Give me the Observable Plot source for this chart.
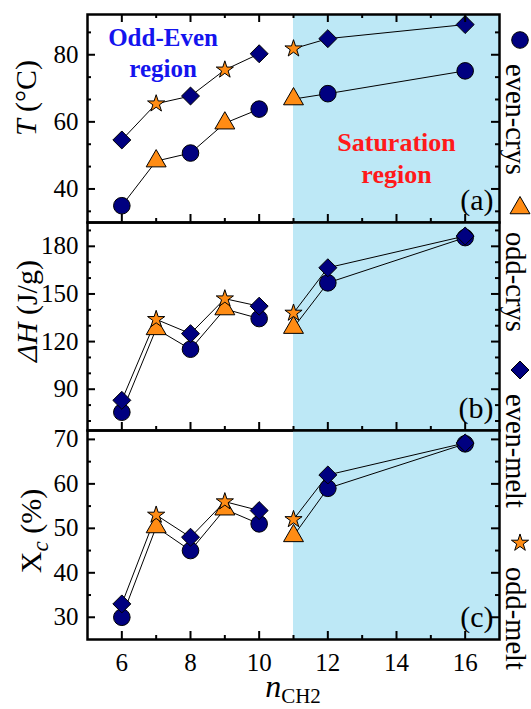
<!DOCTYPE html>
<html>
<head>
<meta charset="utf-8">
<script src="https://cdn.jsdelivr.net/npm/d3@7"></script>
<script src="https://cdn.jsdelivr.net/npm/@observablehq/plot@0.6"></script>
<style>
  html, body { margin: 0; padding: 0; background: white; }
  #chart { position: relative; width: 531px; height: 709px; }
  #chart > svg { display: block; }
  #legend { position: absolute; left: 0; top: 0; pointer-events: none; }
</style>
</head>
<body>
<div id="chart"></div>
<script>
// ---------- data ----------
const nEven = [6, 8, 10, 12, 16];
const nOdd = [7, 9, 11];

// (a) transition temperature T (°C)
const T_evenCrys = [35, 50.7, 63.8, 68.4, 75.2];
const T_oddCrys  = [48.3, 59.6, 66.8];
const T_evenMelt = [54.6, 67.7, 80.3, 84.8, 89];
const T_oddMelt  = [65.4, 75.5, 81.8];

// (b) enthalpy ΔH (J/g)
const H_evenCrys = [75.5, 115.2, 134.5, 157, 185.5];
const H_oddCrys  = [128, 140.5, 128.8];
const H_evenMelt = [83, 125, 142.3, 166.5, 186.5];
const H_oddMelt  = [134, 147, 138];

// (c) crystallinity Xc (%)
const X_evenCrys = [30, 45, 51, 59, 69];
const X_oddCrys  = [50.3, 54.3, 48.3];
const X_evenMelt = [33, 48, 54, 62, 69.2];
const X_oddMelt  = [53, 56, 52];

// saturation region (n range)
const satRegion = [11, 17];
// segment break: points with n <= 10 form the first connected segment
const segmentBreak = 10;

// ticks
const xDomain = [5, 17];
const xMajor = [6, 8, 10, 12, 14, 16];
const xMinor = [7, 9, 11, 13, 15];
const yA_major = [40, 60, 80];
const yA_minor = [33.33, 46.67, 53.33, 66.67, 73.33, 86.67];
const yB_major = [90, 120, 150, 180];
const yB_minor = [70, 80, 100, 110, 130, 140, 160, 170, 190];
const yC_major = [30, 40, 50, 60, 70];
const yC_minor = [35, 45, 55, 65];

// annotations (data coordinates of panel a)
const annotations = [
  {text: "Odd-Even\nregion", n: 7.2, v: 81, color: "#1414ee", size: 25},
  {text: "Saturation\nregion", n: 14.0, v: 49.6, color: "#ff1a1a", size: 26}
];

// series styling
const navy = "#000080", orange = "#ff8c14", shade = "#bde8f6";
const series = [
  {key: "evenCrys", label: "even-crys", kind: "crys", symbol: "circle",   r: 8.3, fill: navy,   even: true},
  {key: "oddCrys",  label: "odd-crys",  kind: "crys", symbol: "triangle", r: 7.4, fill: orange, even: false},
  {key: "evenMelt", label: "even-melt", kind: "melt", symbol: "diamond2", r: 8.1, fill: navy,   even: true},
  {key: "oddMelt",  label: "odd-melt",  kind: "melt", symbol: "star",     r: 5.4, fill: orange, even: false}
];

const font = "'Liberation Serif', 'Times New Roman', Times, serif";
const W = 531, ML = 87, MR = 32;

function buildRows(vals) {
  const rows = [];
  for (const s of series) {
    const ns = s.even ? nEven : nOdd;
    ns.forEach((n, i) => rows.push({
      n, v: vals[s.key][i], series: s.key,
      group: s.kind + (n <= segmentBreak ? "-1" : "-2")
    }));
  }
  return rows.sort((a, b) => a.n - b.n);
}

function makePanel(cfg) {
  const rows = buildRows(cfg.values);
  const fw = W - ML - MR;
  const ph = cfg.height - cfg.marginTop - cfg.marginBottom;
  const majLen = 8, minLen = 4;
  const marks = [
    Plot.rect([satRegion], {x1: d => d[0], x2: d => d[1], fill: shade}),
    Plot.line(rows, {x: "n", y: "v", z: "group", stroke: "black", strokeWidth: 1}),
    ...series.map(s => Plot.dot(rows.filter(r => r.series === s.key), {
      x: "n", y: "v", symbol: s.symbol, r: s.r, fill: s.fill, stroke: "black", strokeWidth: 1
    })),
    Plot.tickY(cfg.major, {y: d => d, stroke: "black", strokeWidth: 2, insetRight: fw - majLen}),
    Plot.tickY(cfg.minor, {y: d => d, stroke: "black", strokeWidth: 2, insetRight: fw - minLen}),
    Plot.tickY(cfg.major, {y: d => d, stroke: "black", strokeWidth: 2, insetLeft: fw - majLen}),
    Plot.tickY(cfg.minor, {y: d => d, stroke: "black", strokeWidth: 2, insetLeft: fw - minLen}),
    Plot.tickX(xMajor, {x: d => d, stroke: "black", strokeWidth: 2, insetTop: ph - majLen}),
    Plot.tickX(xMinor, {x: d => d, stroke: "black", strokeWidth: 2, insetTop: ph - minLen}),
    Plot.frame({stroke: "black", strokeWidth: 2.5}),
    Plot.text([cfg.tag], {text: d => d, frameAnchor: "bottom-right", dx: -6, dy: -13, fontSize: 30})
  ];
  if (cfg.topTicks) {
    marks.push(
      Plot.tickX(xMajor, {x: d => d, stroke: "black", strokeWidth: 2, insetBottom: ph - majLen}),
      Plot.tickX(xMinor, {x: d => d, stroke: "black", strokeWidth: 2, insetBottom: ph - minLen})
    );
  }
  if (cfg.annotations) {
    for (const a of cfg.annotations) {
      marks.push(Plot.text([a], {
        x: "n", y: "v", text: "text", fill: "color", fontWeight: "bold", fontSize: a.size,
        lineHeight: 1.25, textAnchor: "middle", lineAnchor: "middle"
      }));
    }
  }
  return Plot.plot({
    width: W, height: cfg.height,
    marginLeft: ML, marginRight: MR, marginTop: cfg.marginTop, marginBottom: cfg.marginBottom,
    style: {fontFamily: font, fontSize: "25px", background: "transparent", color: "black", overflow: "visible"},
    x: cfg.xAxis
      ? {domain: xDomain, ticks: xMajor, tickSize: 0, tickPadding: 14, label: null}
      : {domain: xDomain, axis: null},
    y: {domain: cfg.domain, ticks: cfg.major, tickSize: 0, tickPadding: 9, label: null},
    marks
  });
}

function richText(svg, {x, y, rotate, size, parts}) {
  const t = d3.select(svg).append("text")
    .attr("transform", `translate(${x},${y}) rotate(${rotate})`)
    .attr("text-anchor", "middle")
    .attr("fill", "black")
    .style("font-family", font)
    .style("font-size", size + "px");
  for (const p of parts) {
    const ts = t.append("tspan").text(p.text);
    if (p.italic) ts.style("font-style", "italic");
    if (p.size) ts.style("font-size", p.size + "px");
    if (p.dy) ts.attr("dy", p.dy);
  }
}

const chart = document.getElementById("chart");

const svgA = makePanel({
  values: {evenCrys: T_evenCrys, oddCrys: T_oddCrys, evenMelt: T_evenMelt, oddMelt: T_oddMelt},
  domain: [30, 92], major: yA_major, minor: yA_minor,
  height: 222, marginTop: 14, marginBottom: 0, tag: "(a)", topTicks: true, annotations
});
const svgB = makePanel({
  values: {evenCrys: H_evenCrys, oddCrys: H_oddCrys, evenMelt: H_evenMelt, oddMelt: H_oddMelt},
  domain: [64, 195], major: yB_major, minor: yB_minor,
  height: 208, marginTop: 0, marginBottom: 0, tag: "(b)"
});
const svgC = makePanel({
  values: {evenCrys: X_evenCrys, oddCrys: X_oddCrys, evenMelt: X_evenMelt, oddMelt: X_oddMelt},
  domain: [25, 72], major: yC_major, minor: yC_minor,
  height: 279, marginTop: 0, marginBottom: 70, tag: "(c)", xAxis: true
});

richText(svgA, {x: 36, y: 98, rotate: -90, size: 30, parts: [
  {text: "T", italic: true}, {text: " (°C)"}
]});
richText(svgB, {x: 37, y: 89, rotate: -90, size: 30, parts: [
  {text: "ΔH", italic: true}, {text: " (J/g)"}
]});
richText(svgC, {x: 41, y: 101, rotate: -90, size: 30, parts: [
  {text: "X"}, {text: "c", italic: true, size: 23, dy: 7}, {text: " (%)", dy: -7}
]});
richText(svgC, {x: 293, y: 267, rotate: 0, size: 32, parts: [
  {text: "n", italic: true}, {text: "CH2", size: 21, dy: 6}
]});

chart.append(svgA, svgB, svgC);

// ---------- legend (right side, rotated) ----------
const symbolTypes = {circle: d3.symbolCircle, triangle: d3.symbolTriangle, diamond2: d3.symbolDiamond2, star: d3.symbolStar};
const legendY = [40, 208, 370, 543];
const legendSvg = d3.select(chart).append("svg")
  .attr("id", "legend").attr("width", W).attr("height", 709);
series.forEach((s, i) => {
  const y = legendY[i];
  legendSvg.append("path")
    .attr("d", d3.symbol().type(symbolTypes[s.symbol]).size(Math.PI * s.r * s.r)())
    .attr("transform", `translate(520,${y})`)
    .attr("fill", s.fill).attr("stroke", "black").attr("stroke-width", 1);
  legendSvg.append("text")
    .attr("transform", `translate(506,${y + 24}) rotate(90)`)
    .attr("text-anchor", "start")
    .style("font-family", font).style("font-size", "28.5px")
    .attr("fill", "black")
    .text(s.label);
});
</script>
</body>
</html>
